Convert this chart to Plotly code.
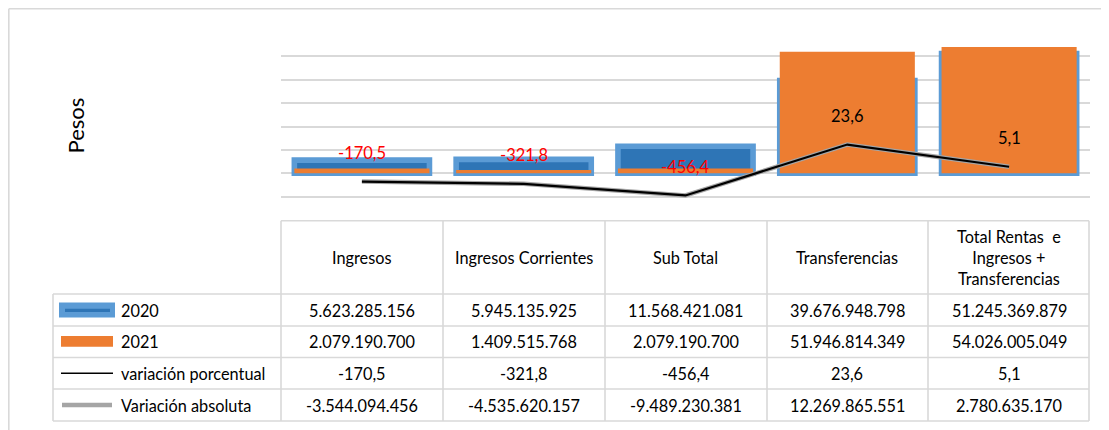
import plotly.graph_objects as go

categorias = ["Ingresos", "Ingresos Corrientes", "Sub Total", "Transferencias",
              "Total Rentas  e<br>Ingresos +<br>Transferencias"]
valores_2020 = [5623285156, 5945135925, 11568421081, 39676948798, 51245369879]
valores_2021 = [2079190700, 1409515768, 2079190700, 51946814349, 54026005049]
var_porcentual = [-170.5, -321.8, -456.4, 23.6, 5.1]
var_absoluta = [-3544094456, -4535620157, -9489230381, 12269865551, 2780635170]

AZUL_BORDE = "#5B9BD5"
AZUL = "#2E75B6"
NARANJA = "#ED7D31"
GRIS = "#A5A5A5"
LINEA = "#D9D9D9"
FUENTE = "Lato"

# the page body adds an 8px margin, so work in page pixels and shift
OFF = 8
W, H = 1109 - OFF, 430 - OFF
L, R, T, B = 281 - OFF, 1090 - OFF, 33 - OFF, 220 - OFF


def px(x):
    return (x - OFF - L) / (R - L)


def py(y):
    return (B - (y - OFF)) / (B - T)


def fmt_int(v):
    return f"{v:,}".replace(",", ".")


def fmt_dec(v):
    return f"{v:.1f}".replace(".", ",")


fig = go.Figure()

fig.add_trace(go.Bar(x=categorias, y=valores_2020, name="2020", width=0.835,
                     marker=dict(color=AZUL, line=dict(color=AZUL_BORDE, width=5.6))))
fig.add_trace(go.Bar(x=categorias, y=valores_2021, name="2021", width=0.835,
                     marker=dict(color=NARANJA, line=dict(width=0))))
fig.add_trace(go.Scatter(x=categorias, y=var_absoluta, mode="lines", name="Variación absoluta",
                         line=dict(color=GRIS, width=4.5)))
fig.add_trace(go.Scatter(x=categorias, y=var_absoluta, mode="lines", name="variación porcentual",
                         line=dict(color="black", width=2.2), showlegend=False))

# data labels of the percent variation
for c, a, p in zip(categorias, var_absoluta, var_porcentual):
    fig.add_annotation(x=c, y=a, text=fmt_dec(p), showarrow=False, yshift=28.5,
                       font=dict(family=FUENTE, size=16.5, color="#FF0000" if p < 0 else "black"))

# ---- data table ----
shapes = []
col_edges = [281, 443, 605, 767, 928, 1089]
row_edges = [294, 326, 357.5, 389, 421]
top = 220.7


def hline(y, x0, x1):
    shapes.append(dict(type="line", xref="paper", yref="paper", x0=px(x0), x1=px(x1),
                       y0=py(y), y1=py(y), line=dict(color=LINEA, width=1.6)))


def vline(x, y0, y1):
    shapes.append(dict(type="line", xref="paper", yref="paper", x0=px(x), x1=px(x),
                       y0=py(y0), y1=py(y1), line=dict(color=LINEA, width=1.6)))


hline(top, 281, 1089)
for y in row_edges:
    hline(y, 53, 1089)
for x in col_edges:
    vline(x, top, 421)
vline(53, 294, 421)

# outer chart border (as close to the page edge as the figure allows)
hline(8.8, 8.8, 1115)
vline(8.8, 8.8, 440)

for c in categorias:
    fig.add_annotation(x=c, y=py((top + 294) / 2), xref="x", yref="paper", text=c,
                       showarrow=False, yanchor="middle",
                       font=dict(family=FUENTE, size=16.3, color="black"))

filas = [
    ("2020", [fmt_int(v) for v in valores_2020]),
    ("2021", [fmt_int(v) for v in valores_2021]),
    ("variación porcentual", [fmt_dec(v) for v in var_porcentual]),
    ("Variación absoluta", [fmt_int(v) for v in var_absoluta]),
]
for i, (nombre, textos) in enumerate(filas):
    yc = (row_edges[i] + row_edges[i + 1]) / 2
    for c, t in zip(categorias, textos):
        fig.add_annotation(x=c, y=py(yc), xref="x", yref="paper", text=t, showarrow=False,
                           yanchor="middle", font=dict(family=FUENTE, size=16.3, color="black"))
    fig.add_annotation(x=px(118.5), y=py(yc), xref="paper", yref="paper", text=nombre,
                       showarrow=False, xanchor="left", yanchor="middle",
                       font=dict(family=FUENTE, size=16.3, color="black"))

# legend keys inside the table
shapes.append(dict(type="rect", xref="paper", yref="paper", x0=px(59), x1=px(115),
                   y0=py(302.5), y1=py(317.5), fillcolor=AZUL_BORDE, line=dict(width=0)))
shapes.append(dict(type="rect", xref="paper", yref="paper", x0=px(65), x1=px(110),
                   y0=py(308.8), y1=py(312), fillcolor=AZUL, line=dict(width=0)))
shapes.append(dict(type="rect", xref="paper", yref="paper", x0=px(61), x1=px(113),
                   y0=py(336), y1=py(346.7), fillcolor=NARANJA, line=dict(width=0)))
shapes.append(dict(type="line", xref="paper", yref="paper", x0=px(61), x1=px(113),
                   y0=py(373.3), y1=py(373.3), line=dict(color="black", width=1.5)))
shapes.append(dict(type="line", xref="paper", yref="paper", x0=px(62), x1=px(112),
                   y0=py(405), y1=py(405), line=dict(color=GRIS, width=4.5)))

fig.add_annotation(x=px(59), y=py(126), xref="paper", yref="paper", text="Pesos",
                   textangle=-90, showarrow=False,
                   font=dict(family=FUENTE, size=22, color="black"))

fig.update_layout(
    width=W, height=H,
    margin=dict(l=L, r=W - R, t=T, b=H - B),
    barmode="overlay",
    showlegend=False,
    paper_bgcolor="white",
    plot_bgcolor="white",
    shapes=shapes,
    xaxis=dict(type="category", range=[-0.5, 4.5], showticklabels=False,
               showgrid=False, zeroline=False, showline=False),
    yaxis=dict(range=[-20e9, 60e9], dtick=10e9, showticklabels=False, showgrid=True,
               gridcolor=LINEA, gridwidth=1.5, zeroline=True, zerolinecolor=LINEA,
               zerolinewidth=1.5, showline=False),
)

fig.write_html("out.html")
